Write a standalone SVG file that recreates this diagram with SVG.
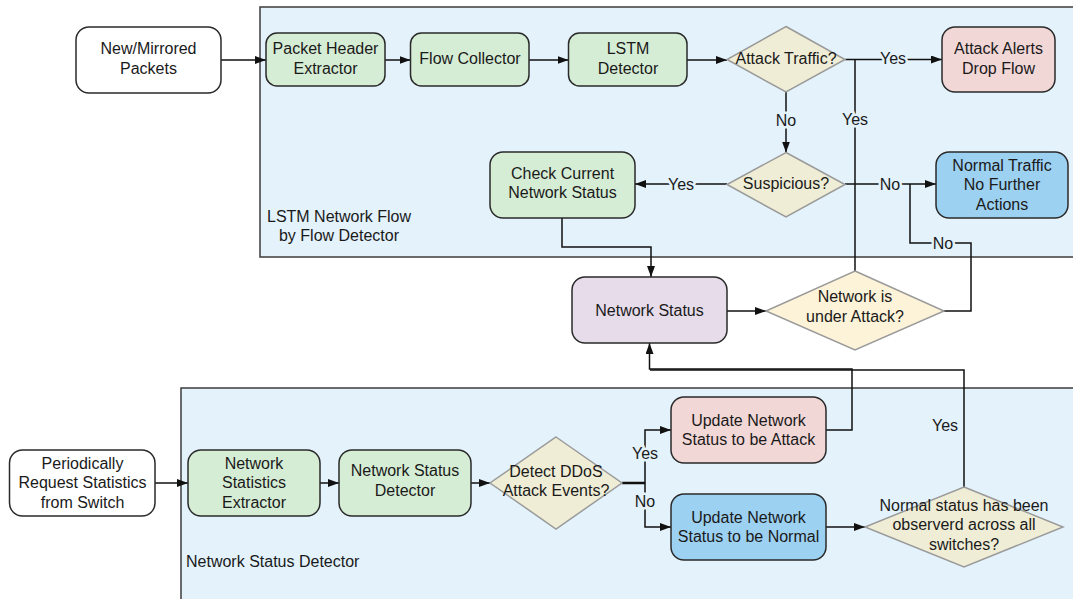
<svg xmlns="http://www.w3.org/2000/svg" width="1073" height="599" viewBox="0 0 1073 599">
  <defs>
    <marker id="arrow" markerWidth="11" markerHeight="8" refX="11" refY="4" orient="auto" markerUnits="userSpaceOnUse">
      <path d="M0,0 L11,4 L0,8 z" fill="#111"/>
    </marker>
    <style>
      text { font-family: "Liberation Sans", Arial, sans-serif; font-size: 16px; fill: #1a1a1a; text-anchor: middle; }
      .zone { fill: #e3f2fb; stroke: #3c3c3c; stroke-width: 1.5; }
      .box { stroke: #2a2a2a; stroke-width: 1.5; }
      .plain { fill: #ffffff; }
      .green { fill: #d6edd5; }
      .pink { fill: #f2d7d7; }
      .blue { fill: #9dd1f2; }
      .lav { fill: #e7dcea; }
      .dia { fill: #efedd6; stroke: #9a9a9a; stroke-width: 1.5; }
      .dia2 { fill: #fdf3d8; stroke: #9a9a9a; stroke-width: 1.5; }
      .wire { fill: none; stroke: #111; stroke-width: 1.5; }
      .arr { marker-end: url(#arrow); }
      .lbl { stroke: #e3f2fb; stroke-width: 5; paint-order: stroke; stroke-linejoin: round; }
      .left { text-anchor: start; }
    </style>
  </defs>

  <!-- swimlane containers -->
  <g id="lstm-zone">
    <rect class="zone" x="260" y="7" width="830" height="250"/>
    <text x="339" y="221.5">LSTM Network Flow</text>
    <text x="339" y="240.5">by Flow Detector</text>
  </g>
  <g id="status-zone">
    <rect class="zone" x="181" y="388" width="910" height="230"/>
    <text class="left" x="186" y="566.5">Network Status Detector</text>
  </g>

  <!-- connectors -->
  <g id="connectors">
    <path class="wire arr" d="M221 60 H266"/>
    <path class="wire arr" d="M385 60 H410.5"/>
    <path class="wire arr" d="M529 60 H568.5"/>
    <path class="wire arr" d="M687 60 H727"/>
    <path class="wire arr" d="M845 59.5 H942"/>
    <path class="wire arr" d="M786 92 V152.5"/>
    <path class="wire arr" d="M727 184 H635"/>
    <path class="wire arr" d="M845 184 H936"/>
    <path class="wire arr" d="M562 218 V247 H651 V277"/>
    <path class="wire arr" d="M727 311 H766"/>
    <path class="wire" d="M855 271 V59.5"/>
    <path class="wire" d="M944 311 H971 V243 H910 V184"/>
    <path class="wire arr" d="M155 483 H188"/>
    <path class="wire arr" d="M320 483 H339"/>
    <path class="wire arr" d="M471 483 H490"/>
    <path class="wire arr" d="M622 482.5 H645 V430 H671"/>
    <path class="wire arr" d="M622 483.5 H645 V527 H671"/>
    <path class="wire arr" d="M826 430 H852 V369 H649.5 V343"/>
    <path class="wire" d="M964 487 V370 H650"/>
    <path class="wire arr" d="M826 527 H865"/>

    <text class="lbl" x="893" y="63.5">Yes</text>
    <text class="lbl" x="855" y="124.5">Yes</text>
    <text class="lbl" x="786" y="126">No</text>
    <text class="lbl" x="681" y="189.5">Yes</text>
    <text class="lbl" x="890" y="189.5">No</text>
    <text class="lbl" x="943" y="248.5">No</text>
    <text class="lbl" x="645" y="459">Yes</text>
    <text class="lbl" x="645" y="507">No</text>
    <text x="945" y="430.5">Yes</text>
  </g>

  <!-- top lane -->
  <g id="mirrored-packets">
    <rect class="box plain" x="76" y="27" width="145" height="66" rx="13"/>
    <text x="148.5" y="53.7">New/Mirrored</text>
    <text x="148.5" y="73.7">Packets</text>
  </g>
  <g id="header-extractor">
    <rect class="box green" x="266" y="33" width="119" height="53" rx="11"/>
    <text x="325.5" y="53.7">Packet Header</text>
    <text x="325.5" y="73.7">Extractor</text>
  </g>
  <g id="flow-collector">
    <rect class="box green" x="410.5" y="33" width="118.5" height="53" rx="11"/>
    <text x="470" y="63.5">Flow Collector</text>
  </g>
  <g id="lstm-detector">
    <rect class="box green" x="568.5" y="33" width="118.5" height="53" rx="11"/>
    <text x="628" y="53.7">LSTM</text>
    <text x="628" y="73.7">Detector</text>
  </g>
  <g id="attack-traffic">
    <polygon class="dia" points="786,26.5 845,59.5 786,92 727,59.5"/>
    <text x="786" y="63.5">Attack Traffic?</text>
  </g>
  <g id="attack-alerts">
    <rect class="box pink" x="942" y="27" width="113" height="65" rx="13"/>
    <text x="998.5" y="53.7">Attack Alerts</text>
    <text x="998.5" y="73.7">Drop Flow</text>
  </g>
  <g id="suspicious">
    <polygon class="dia" points="786,152.5 845,184.5 786,217 727,184.5"/>
    <text x="786" y="188.7">Suspicious?</text>
  </g>
  <g id="check-status">
    <rect class="box green" x="490" y="152" width="145" height="66" rx="13"/>
    <text x="562.5" y="178.7">Check Current</text>
    <text x="562.5" y="197.7">Network Status</text>
  </g>
  <g id="normal-traffic">
    <rect class="box blue" x="936" y="152" width="132" height="66" rx="13"/>
    <text x="1002" y="170.7">Normal Traffic</text>
    <text x="1002" y="189.7">No Further</text>
    <text x="1002" y="209.7">Actions</text>
  </g>

  <!-- middle -->
  <g id="network-status">
    <rect class="box lav" x="572" y="277" width="155" height="66" rx="13"/>
    <text x="649.5" y="315.5">Network Status</text>
  </g>
  <g id="under-attack">
    <polygon class="dia2" points="855,271 944,311 855,350 766,311"/>
    <text x="855" y="301.7">Network is</text>
    <text x="855" y="322">under Attack?</text>
  </g>

  <!-- bottom lane -->
  <g id="request-stats">
    <rect class="box plain" x="9.5" y="450" width="145.5" height="66" rx="13"/>
    <text x="82.5" y="468.7">Periodically</text>
    <text x="82.5" y="488.2">Request Statistics</text>
    <text x="82.5" y="507.5">from Switch</text>
  </g>
  <g id="stats-extractor">
    <rect class="box green" x="188" y="450" width="132" height="66" rx="13"/>
    <text x="254" y="468.7">Network</text>
    <text x="254" y="488.2">Statistics</text>
    <text x="254" y="507.5">Extractor</text>
  </g>
  <g id="status-detector">
    <rect class="box green" x="339" y="450" width="132" height="66" rx="13"/>
    <text x="405" y="476.2">Network Status</text>
    <text x="405" y="495.7">Detector</text>
  </g>
  <g id="detect-ddos">
    <polygon class="dia" points="556,437 622,483 556,529 490,483"/>
    <text x="556" y="476.5">Detect DDoS</text>
    <text x="556" y="495.7">Attack Events?</text>
  </g>
  <g id="update-attack">
    <rect class="box pink" x="671" y="397" width="155" height="66" rx="13"/>
    <text x="748.5" y="426">Update Network</text>
    <text x="748.5" y="445">Status to be Attack</text>
  </g>
  <g id="update-normal">
    <rect class="box blue" x="671" y="494" width="155" height="66" rx="13"/>
    <text x="748.5" y="523">Update Network</text>
    <text x="748.5" y="542">Status to be Normal</text>
  </g>
  <g id="all-switches">
    <polygon class="dia" points="964,487 1063,527 964,567 865,527"/>
    <text x="964" y="510.5">Normal status has been</text>
    <text x="964" y="530">observerd across all</text>
    <text x="964" y="549.5">switches?</text>
  </g>
</svg>
